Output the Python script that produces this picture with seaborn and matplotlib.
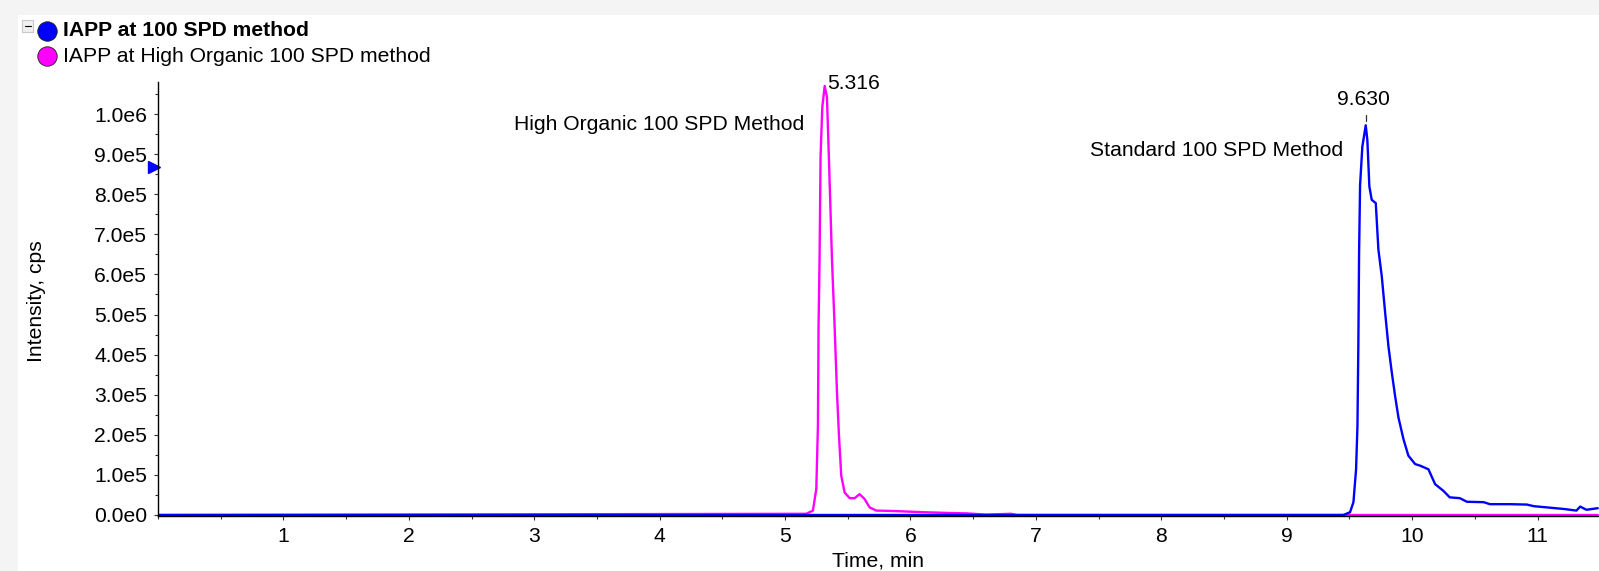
import numpy as np
import pandas as pd
import matplotlib
matplotlib.use("Agg")
import matplotlib.pyplot as plt
import seaborn as sns
from matplotlib.lines import Line2D
from matplotlib.patches import Rectangle
from matplotlib.ticker import MultipleLocator, FuncFormatter

tempo_padrao = [0.0, 9.40, 9.452, 9.505, 9.532, 9.553, 9.564, 9.571, 9.577, 9.585,
                9.603, 9.630, 9.643, 9.659, 9.678, 9.710, 9.731, 9.758, 9.785, 9.811,
                9.838, 9.864, 9.891, 9.931, 9.970, 10.024, 10.064, 10.130, 10.183, 10.25,
                10.30, 10.38, 10.437, 10.57, 10.62, 10.78, 10.915, 10.97, 11.21, 11.31,
                11.34, 11.39, 11.48]
intens_padrao = [0, 0, 0, 7e3, 3.2e4, 1.14e5, 2.22e5, 4.21e5, 6.53e5, 8.23e5,
                 9.19e5, 9.72e5, 9.35e5, 8.19e5, 7.86e5, 7.78e5, 6.62e5, 5.95e5, 5.04e5, 4.21e5,
                 3.55e5, 2.97e5, 2.43e5, 1.89e5, 1.48e5, 1.27e5, 1.23e5, 1.14e5, 7.7e4, 6.0e4,
                 4.4e4, 4.2e4, 3.3e4, 3.2e4, 2.7e4, 2.7e4, 2.6e4, 2.2e4, 1.5e4, 1.1e4,
                 2.1e4, 1.3e4, 1.7e4]

tempo_org = [0.0, 5.169, 5.222, 5.249, 5.262, 5.267, 5.275, 5.283, 5.297, 5.316,
             5.334, 5.35, 5.374, 5.395, 5.414, 5.43, 5.448, 5.475, 5.515, 5.555,
             5.594, 5.634, 5.674, 5.728, 5.86, 6.1, 6.31, 6.45, 6.6, 6.8,
             6.85, 7.2, 11.48]
intens_org = [0, 3e3, 1.1e4, 6.5e4, 2.22e5, 4.71e5, 6.37e5, 8.94e5, 1.018e6, 1.07e6,
              1.043e6, 8.86e5, 6.37e5, 4.71e5, 3.05e5, 1.97e5, 9.8e4, 5.6e4, 4.2e4, 4.2e4,
              5.2e4, 4.0e4, 1.9e4, 1.1e4, 1.0e4, 7e3, 5e3, 4e3, 1e3, 3e3,
              0, 0, 0]

legenda = ["IAPP at 100 SPD method", "IAPP at High Organic 100 SPD method"]
rotulos_pico = ["5.316", "9.630"]
AZUL = "#0000ff"
ROSA = "#ff00ff"

W, H = 1599, 571

sns.set_theme(style="white")
plt.rcParams["font.family"] = ["Liberation Sans", "DejaVu Sans"]
plt.rcParams["text.color"] = "black"
plt.rcParams["axes.labelcolor"] = "black"
FS = 15.2

fig = plt.figure(figsize=(W / 100, H / 100), dpi=100)
fig.patch.set_facecolor("#f4f4f4")


def px(x, y):
    # pixel -> fração da figura
    return x / W, 1 - y / H


fig.add_artist(Rectangle(px(18, H), 1 - 18 / W, 1 - 15 / H, transform=fig.transFigure,
                         facecolor="white", edgecolor="none", zorder=0))

ax = fig.add_axes([158 / W, 1 - 516 / H, (W - 158) / W, (516 - 82) / H])
ax.set_facecolor("white")

df_org = pd.DataFrame({"tempo": tempo_org, "intensidade": intens_org})
df_pad = pd.DataFrame({"tempo": tempo_padrao, "intensidade": intens_padrao})
sns.lineplot(data=df_org, x="tempo", y="intensidade", color=ROSA, linewidth=1.7, ax=ax)
sns.lineplot(data=df_pad, x="tempo", y="intensidade", color=AZUL, linewidth=1.7, ax=ax)

ax.set_xlim(0, 11.49)
ax.set_ylim(-2500, 1.08e6)

for lado in ["top", "right"]:
    ax.spines[lado].set_visible(False)
for lado in ["left", "bottom"]:
    ax.spines[lado].set_color("black")
    ax.spines[lado].set_linewidth(1.0)

ax.set_xticks(range(1, 12))
ax.xaxis.set_minor_locator(MultipleLocator(0.5))
ax.yaxis.set_major_locator(MultipleLocator(1e5))
ax.yaxis.set_minor_locator(MultipleLocator(5e4))


def fmt_e(v, pos):
    if abs(v) < 1:
        return "0.0e0"
    exp = int(np.floor(np.log10(abs(v)) + 1e-9))
    return f"{v / 10 ** exp:.1f}e{exp}"


ax.yaxis.set_major_formatter(FuncFormatter(fmt_e))
ax.tick_params(axis="both", which="major", direction="out", length=3, width=0.8,
               color="#333333", labelsize=FS, labelcolor="black", left=True, bottom=True)
ax.tick_params(axis="both", which="minor", direction="out", length=2, width=0.8,
               color="#333333", left=True, bottom=True)
ax.tick_params(axis="y", which="major", pad=5)
ax.tick_params(axis="x", which="major", pad=5)

ax.set_xlabel("Time, min", fontsize=FS)
ax.set_ylabel("Intensity, cps", fontsize=FS)
ax.xaxis.set_label_coords(0.5, -0.081)
ax.yaxis.set_label_coords(-0.0775, 0.495)

# rótulos dos picos
pico_o = int(np.argmax(intens_org))
pico_p = int(np.argmax(intens_padrao))
ax.annotate(rotulos_pico[0], xy=(tempo_org[pico_o], intens_org[pico_o]),
            xytext=(2, 3), textcoords="offset pixels", ha="left", va="center",
            fontsize=FS, annotation_clip=False)
ax.annotate(rotulos_pico[1], xy=(tempo_padrao[pico_p], intens_padrao[pico_p]),
            xytext=(-2, 26), textcoords="offset pixels", ha="center", va="center",
            fontsize=FS, annotation_clip=False)
ax.plot([tempo_padrao[pico_p]] * 2, [intens_padrao[pico_p] + 4 / 402 * 1e6,
                                     intens_padrao[pico_p] + 10 / 402 * 1e6],
        color="#333333", linewidth=0.9, clip_on=False)

ax.text(5.155, 9.73e5, "High Organic 100 SPD Method", ha="right", va="center", fontsize=FS)
ax.text(9.449, 9.10e5, "Standard 100 SPD Method", ha="right", va="center", fontsize=FS)

# seta azul no eixo y
ax.plot([-0.03], [8.69e5], marker=">", markersize=8, color=AZUL, clip_on=False)

# legenda no topo
fig.add_artist(Rectangle(px(22, 32), 11 / W, 12 / H, transform=fig.transFigure,
                         facecolor="#f0f0f0", edgecolor="#c8c8c8", linewidth=0.8))
fig.add_artist(Line2D([24.5 / W, 30.5 / W], [1 - 26 / H] * 2, transform=fig.transFigure,
                      color="black", linewidth=0.8))
for i, (rot, cor) in enumerate(zip(legenda, [AZUL, ROSA])):
    yy = 31 + 25 * i
    fig.add_artist(Line2D([46.7 / W], [1 - yy / H], marker="o", markersize=14,
                          markerfacecolor=cor, markeredgecolor="#202020",
                          markeredgewidth=0.6, transform=fig.transFigure))
    fig.text(63 / W, 1 - yy / H, rot, ha="left", va="center", fontsize=FS,
             fontweight="bold" if i == 0 else "normal")

fig.savefig("out.png", dpi=100, facecolor=fig.get_facecolor())
